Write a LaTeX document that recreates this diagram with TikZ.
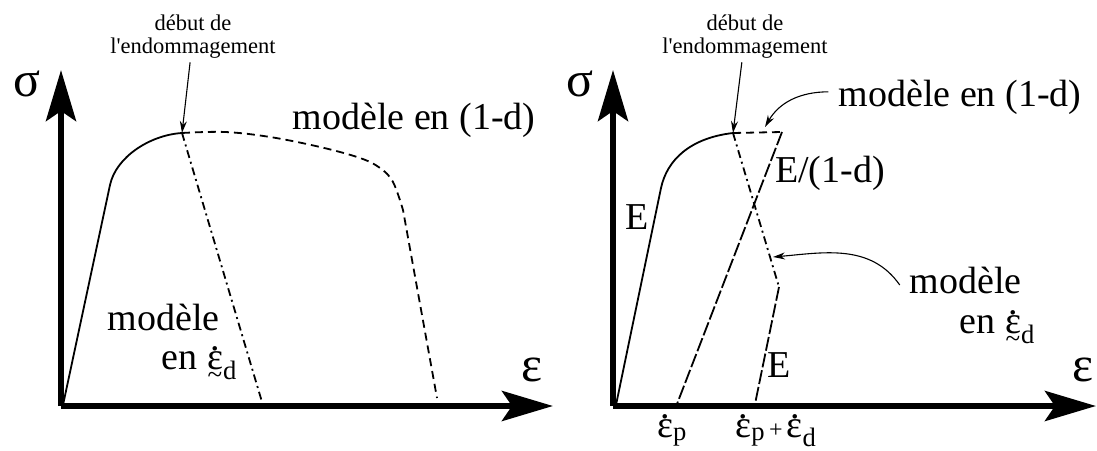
\documentclass[tikz,border=0pt]{standalone}
\usepackage{fontspec}
\setmainfont{Liberation Serif}[Ligatures=TeXOff]
\usetikzlibrary{arrows.meta}

% taux de deformation (point au-dessus, tilde dessous)
\newcommand{\epsrate}{\ooalign{ε\cr\hidewidth\raisebox{.5em}{.}\hidewidth\cr}}
\newcommand{\epstens}{\ooalign{ε\cr\hidewidth\raisebox{.5em}{.}\hidewidth\cr\hidewidth\raisebox{-.36em}{\fontsize{27}{27}\selectfont\char"7E}\hidewidth\cr}}

\tikzset{
  axe/.style={line width=6pt, -{Stealth[length=51pt,width=30pt,inset=10pt]}},
  courbe/.style={line width=1.8pt},
  tirets/.style={courbe, dash pattern=on 8pt off 5pt},
  longtirets/.style={courbe, dash pattern=on 14pt off 3pt},
  mixte/.style={courbe, dash pattern=on 8pt off 4pt on 2pt off 4pt},
  fleche/.style={line width=1.1pt, -{Stealth[length=12pt,width=7pt]}},
  grand/.style={font=\fontsize{38}{39}\selectfont, inner sep=0pt},
  petit/.style={font=\fontsize{22.5}{23}\selectfont, align=center},
  lettre/.style={font=\fontsize{50}{52}\selectfont},
}

\begin{document}
\begin{tikzpicture}[x=1pt,y=1pt]
\useasboundingbox (0,0) rectangle (1097,450);

% ----- panneau gauche -----
\coordinate (O1) at (61,44);
\coordinate (haut1) at (61,380);
\coordinate (droite1) at (553,44);
\coordinate (pic1) at (182,317);

% Axes
\draw[axe] (O1) -- (haut1);
\draw[axe] (O1) -- (droite1);
\node[lettre] (sigma1) at (27,366) {σ};
\node[lettre] (eps1) at (532,80) {ε};

% Courbes
\draw[courbe] (63,45) -- (110,265) .. controls (116,293) and (150,315) .. (pic1);
\draw[tirets] plot[smooth, tension=0.6] coordinates {(182,317) (225,318) (270,313) (320,303) (360,292) (380,282) (393,268) (403,240)} -- (437,52);
\draw[mixte] (pic1) -- (262,48);

% Textes
\node[petit] (debut1) at (193,413) {début de\\l'endommagement};
\draw[fleche] (debut1) -- (pic1);
\node[grand, anchor=base] (mod1) at (414,320) {modèle en (1-d)};
\node[grand, align=right, anchor=north east] (modd1) at (237,146) {modèle\hspace*{17pt}\\en \epstens\textsubscript{d}};

% ----- panneau droit -----
\coordinate (O2) at (613,44);
\coordinate (haut2) at (613,380);
\coordinate (droite2) at (1096,44);
\coordinate (pic2) at (733,317);
\coordinate (fin2) at (782,318);
\coordinate (coude2) at (779,163);
\coordinate (cible1) at (765,323);
\coordinate (cible2) at (773,193);

% Axes
\draw[axe] (O2) -- (haut2);
\draw[axe] (O2) -- (droite2);
\node[lettre] (sigma2) at (580,366) {σ};
\node[lettre] (eps2) at (1083,80) {ε};

% Courbes
\draw[courbe] (616,45) -- (661,262) .. controls (667,290) and (690,312) .. (pic2);
\draw[tirets] (pic2) -- (fin2);
\draw[longtirets] (fin2) -- (677,46);
\draw[mixte] (pic2) -- (coude2);
\draw[longtirets] (coude2) -- (755,46);

% Textes
\node[petit] (debut2) at (745,413) {début de\\l'endommagement};
\draw[fleche] (debut2) -- (pic2);
\node[grand, anchor=base] (mod2) at (960,343) {modèle en (1-d)};
\draw[fleche] (mod2.west) ++(-10,6) to[out=180, in=60] (cible1);
\node[grand, anchor=base] (E1) at (637,220) {E};
\node[grand, anchor=base] (E2) at (830,267) {E/(1-d)};
\node[grand, anchor=base] (E3) at (779,73) {E};
\node[grand, align=right, anchor=north east] (modd2) at (1035,183) {modèle\hspace*{13pt}\\[1pt]en \epstens\textsubscript{d}};
\draw[fleche] (modd2.north west) ++(-10,-18) to[out=125, in=5] (cible2);
\node[grand, anchor=base] (ep) at (672,13) {\epsrate\textsubscript{p}};
\node[grand, anchor=base] (epd) at (776,13) {\epsrate\textsubscript{p}{\fontsize{24}{24}\selectfont\,+\,}\epsrate\textsubscript{d}};

\end{tikzpicture}
\end{document}
